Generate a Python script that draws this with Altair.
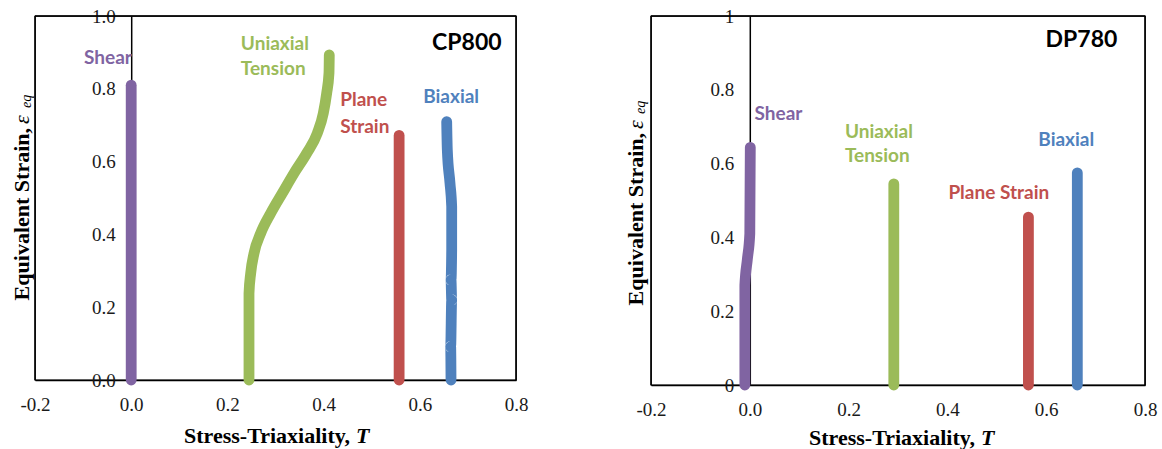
import altair as alt
import pandas as pd

SERIES = ["Shear", "Uniaxial Tension", "Plane Strain", "Biaxial"]
COLORS = ["#8064A2", "#9BBB59", "#C0504D", "#4F81BD"]
X_TICKS = [-0.2, 0.0, 0.2, 0.4, 0.6, 0.8]
Y_TICKS = [0.0, 0.2, 0.4, 0.6, 0.8, 1.0]

# ---------------- CP800 ----------------
cp_shear_T = [0.0, 0.0]
cp_shear_E = [0.0, 0.81]
cp_uni_T = [0.2449, 0.2449, 0.2484, 0.2553, 0.2692, 0.290, 0.3141, 0.3385, 0.3649, 0.3869,
            0.3994, 0.4064, 0.4112, 0.4118]
cp_uni_E = [0.0, 0.238, 0.293, 0.348, 0.403, 0.458, 0.513, 0.568, 0.623, 0.678,
            0.733, 0.788, 0.843, 0.893]
cp_plane_T = [0.557, 0.557]
cp_plane_E = [0.0, 0.672]
cp_biax_T = [0.6649, 0.6642, 0.6663, 0.6649, 0.6663, 0.6663, 0.6628, 0.6572, 0.6559]
cp_biax_E = [0.0, 0.0915, 0.2198, 0.2747, 0.357, 0.4761, 0.5404, 0.6319, 0.7096]

cp_label_text = ["Shear", "Uniaxial", "Tension", "Plane", "Strain", "Biaxial"]
cp_label_series = ["Shear", "Uniaxial Tension", "Uniaxial Tension", "Plane Strain", "Plane Strain", "Biaxial"]
cp_label_T = [-0.098, 0.228, 0.228, 0.4345, 0.4345, 0.607]
cp_label_E = [0.885, 0.923, 0.854, 0.769, 0.696, 0.777]

# ---------------- DP780 ----------------
dp_shear_T = [-0.010, -0.010, -0.005, 0.0, 0.001]
dp_shear_E = [0.0, 0.27, 0.34, 0.41, 0.644]
dp_uni_T = [0.2915, 0.2915]
dp_uni_E = [0.0, 0.545]
dp_plane_T = [0.564, 0.564]
dp_plane_E = [0.0, 0.455]
dp_biax_T = [0.663, 0.663]
dp_biax_E = [0.0, 0.575]

dp_label_text = ["Shear", "Uniaxial", "Tension", "Plane Strain", "Biaxial"]
dp_label_series = ["Shear", "Uniaxial Tension", "Uniaxial Tension", "Plane Strain", "Biaxial"]
dp_label_T = [0.0095, 0.1925, 0.1925, 0.402, 0.584]
dp_label_E = [0.735, 0.686, 0.621, 0.521, 0.663]


def lines_df(pairs):
    rows = []
    for name, ts, es in pairs:
        for i, (t, e) in enumerate(zip(ts, es)):
            rows.append({"series": name, "T": t, "E": e, "idx": i})
    return pd.DataFrame(rows)


X_LABEL_EXPR = "datum.value < 0 ? '-' + format(-datum.value, '.1f') : format(datum.value, '.1f')"


def panel(lines, labels, tag, tag_T, tag_E, width, height, yfmt,
          xt_split, xt_y, yt_x, yt_end, eps_start, eq_start, eq_x):
    xscale = alt.Scale(domain=[-0.2, 0.8], nice=False, zero=False)
    yscale = alt.Scale(domain=[0, 1], nice=False, zero=False)
    xaxis = alt.Axis(values=X_TICKS, labelExpr=X_LABEL_EXPR, ticks=False, grid=False, title=None,
                     domainColor="black", domainWidth=1.4, labelFont="Liberation Serif",
                     labelFontSize=19, labelColor="#1a1a1a", labelPadding=15,
                     labelFlush=False)
    yaxis = alt.Axis(values=Y_TICKS, format=yfmt, ticks=False, grid=False, title=None,
                     offset=-0.2 * width, domainColor="black", domainWidth=1.5,
                     labelFont="Liberation Serif", labelFontSize=19, labelColor="#1a1a1a",
                     labelPadding=16, labelFlush=False, labelOverlap=False)
    color = alt.Color("series:N", scale=alt.Scale(domain=SERIES, range=COLORS), legend=None)

    # frame (left / top / right border of the plot box)
    frame_top = alt.Chart(pd.DataFrame({"k": [0]})).mark_rule(color="black", strokeWidth=1.4).encode(
        x=alt.value(0), x2=alt.value(width), y=alt.value(0))
    frame_right = alt.Chart(pd.DataFrame({"k": [0]})).mark_rule(color="black", strokeWidth=1.4).encode(
        x=alt.value(width), y=alt.value(0), y2=alt.value(height))
    frame_left = alt.Chart(pd.DataFrame({"k": [0]})).mark_rule(color="black", strokeWidth=1.4).encode(
        x=alt.value(0), y=alt.value(0), y2=alt.value(height))

    line = alt.Chart(lines).mark_line(strokeWidth=10.8, strokeCap="round", strokeJoin="round",
                                      interpolate="monotone").encode(
        x=alt.X("T:Q", scale=xscale, axis=xaxis),
        y=alt.Y("E:Q", scale=yscale, axis=yaxis),
        color=color,
        detail="series:N",
        order="idx:Q",
    )
    lab = alt.Chart(labels).mark_text(align="left", baseline="middle", font="Lato",
                                       fontWeight="bold", fontSize=19).encode(
        x=alt.X("T:Q", scale=xscale, axis=xaxis),
        y=alt.Y("E:Q", scale=yscale, axis=yaxis),
        text="text:N",
        color=color,
    )
    tagdf = pd.DataFrame({"text": [tag], "T": [tag_T], "E": [tag_E]})
    tagm = alt.Chart(tagdf).mark_text(align="right", baseline="middle", font="Lato",
                                      fontWeight="bold", fontSize=23, color="black").encode(
        x=alt.X("T:Q", scale=xscale, axis=xaxis),
        y=alt.Y("E:Q", scale=yscale, axis=yaxis),
        text="text:N",
    )
    xt1 = alt.Chart(pd.DataFrame({"t": ["Stress-Triaxiality,"]})).mark_text(
        align="right", baseline="middle", font="Liberation Serif", fontWeight="bold",
        fontSize=22, color="black").encode(x=alt.value(xt_split), y=alt.value(xt_y), text="t:N")
    xt2 = alt.Chart(pd.DataFrame({"t": ["T"]})).mark_text(
        align="left", baseline="middle", font="Liberation Serif", fontWeight="bold",
        fontStyle="italic", fontSize=22, color="black").encode(
        x=alt.value(xt_split + 6), y=alt.value(xt_y), text="t:N")
    yt1 = alt.Chart(pd.DataFrame({"t": ["Equivalent Strain,"]})).mark_text(
        align="right", baseline="alphabetic", angle=270, font="Liberation Serif",
        fontWeight="bold", fontSize=22, color="black").encode(
        x=alt.value(yt_x), y=alt.value(yt_end), text="t:N")
    yt2 = alt.Chart(pd.DataFrame({"t": ["ε"]})).mark_text(
        align="left", baseline="alphabetic", angle=270, font="Liberation Serif",
        fontStyle="italic", fontSize=22, color="black").encode(
        x=alt.value(yt_x), y=alt.value(eps_start), text="t:N")
    yt3 = alt.Chart(pd.DataFrame({"t": ["eq"]})).mark_text(
        align="left", baseline="alphabetic", angle=270, font="Liberation Serif",
        fontStyle="italic", fontSize=14, color="black").encode(
        x=alt.value(eq_x), y=alt.value(eq_start), text="t:N")
    return alt.layer(line, frame_top, frame_right, frame_left, lab, tagm,
                     xt1, xt2, yt1, yt2, yt3).properties(
        width=width, height=height,
        view=alt.ViewBackground(stroke="black", strokeWidth=1.3, fill="white"),
    )


cp_lines = lines_df([
    ("Shear", cp_shear_T, cp_shear_E),
    ("Uniaxial Tension", cp_uni_T, cp_uni_E),
    ("Plane Strain", cp_plane_T, cp_plane_E),
    ("Biaxial", cp_biax_T, cp_biax_E),
])
dp_lines = lines_df([
    ("Shear", dp_shear_T, dp_shear_E),
    ("Uniaxial Tension", dp_uni_T, dp_uni_E),
    ("Plane Strain", dp_plane_T, dp_plane_E),
    ("Biaxial", dp_biax_T, dp_biax_E),
])
cp_labels = pd.DataFrame({"text": cp_label_text, "series": cp_label_series,
                          "T": cp_label_T, "E": cp_label_E})
dp_labels = pd.DataFrame({"text": dp_label_text, "series": dp_label_series,
                          "T": dp_label_T, "E": dp_label_E})

left = panel(cp_lines, cp_labels, "CP800", 0.770, 0.925, 481, 364, ".1f",
             315, 420, -6, 112, 108, 92, -4)
right = panel(dp_lines, dp_labels, "DP780", 0.744, 0.934, 494, 369, "",
              324, 422, -8, 117, 113, 98, -6)

chart = alt.hconcat(left, right, spacing=135, bounds="flush").properties(
    padding={"left": 10, "top": 6, "right": 0, "bottom": 0},
    background="white",
).configure_view(stroke="black", strokeWidth=1.3)

chart.save("out.html", embed_options={"renderer": "svg", "actions": False})
